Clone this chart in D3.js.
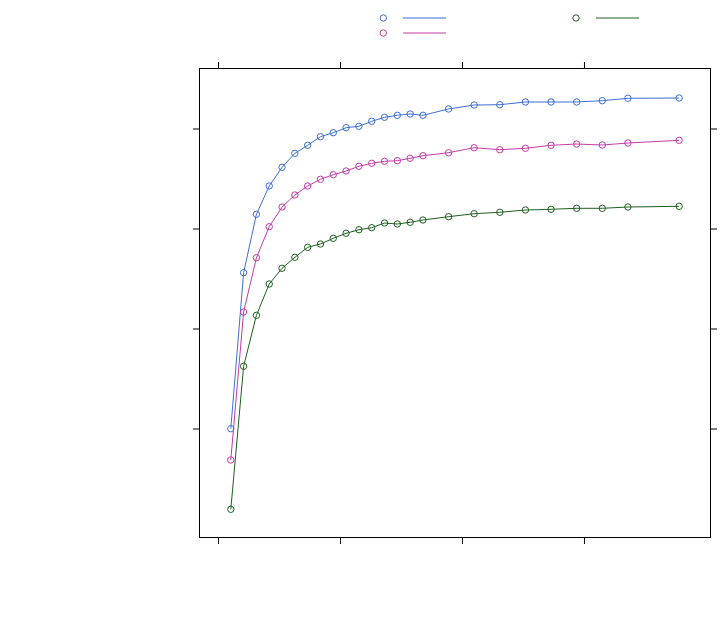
<!DOCTYPE html>
<html>
<head>
<meta charset="utf-8">
<script src="https://cdn.jsdelivr.net/npm/d3@7"></script>
<style>
  body { margin: 0; background: #fff; }
  svg { display: block; }
</style>
</head>
<body>
<div id="chart"></div>
<script>
// x positions of the points (same for all three series)
var xValues = [1.05, 2.1, 3.15, 4.2, 5.25, 6.3, 7.35, 8.4, 9.45, 10.5, 11.55, 12.6,
    13.65, 14.7, 15.75, 16.8, 18.9, 21, 23.1, 25.2, 27.3, 29.4, 31.5, 33.6, 37.8];

var blueValues = [19.96, 51.16, 62.84, 68.5, 72.24, 75.04, 76.64, 78.36, 79.16, 80.16,
    80.44, 81.44, 82.24, 82.64, 82.9, 82.64, 83.9, 84.7, 84.76, 85.3, 85.3, 85.3,
    85.56, 86.04, 86.1];
var pinkValues = [13.7, 43.3, 54.16, 60.36, 64.3, 66.7, 68.5, 69.84, 70.76, 71.5,
    72.44, 73.04, 73.44, 73.56, 74.04, 74.56, 75.16, 76.16, 75.76, 76.04, 76.64,
    76.9, 76.7, 77.1, 77.64];
var greenValues = [3.84, 32.44, 42.64, 48.9, 52.04, 54.24, 56.24, 56.9, 58.04, 59.04,
    59.76, 60.16, 61.1, 60.9, 61.24, 61.7, 62.36, 62.96, 63.24, 63.7, 63.84, 64.04,
    64.04, 64.3, 64.44];

// tick positions (no labels in the picture)
var xTicks = [0, 10, 20, 30];
var yTicks = [20, 40, 60, 80];

var seriesColors = ['#3d6fd4', '#c43aa8', '#1f5f1f'];

var svgWidth = 723;
var svgHeight = 619;

var panel = { left: 200, right: 710, top: 69, bottom: 537 };

var svg = d3.select('#chart')
    .append('svg')
    .attr('width', svgWidth)
    .attr('height', svgHeight);

var xScale = d3.scaleLinear()
    .domain([-1.475, 40.33])
    .range([panel.left, panel.right]);

var yScale = d3.scaleLinear()
    .domain([-1.7, 91.9])
    .range([panel.bottom, panel.top]);

// axes: ticks only, pointing outward
function tickAxis(axis, ticks) {
    return axis.tickValues(ticks).tickSize(7).tickFormat('').tickSizeOuter(0);
}

var axes = [
    { axis: tickAxis(d3.axisLeft(yScale), yTicks), tr: `translate(${panel.left}, 0)` },
    { axis: tickAxis(d3.axisRight(yScale), yTicks), tr: `translate(${panel.right}, 0)` },
    { axis: tickAxis(d3.axisTop(xScale), xTicks), tr: `translate(0, ${panel.top})` },
    { axis: tickAxis(d3.axisBottom(xScale), xTicks), tr: `translate(0, ${panel.bottom})` }
];

axes.forEach(function (a) {
    var g = svg.append('g')
        .attr('transform', a.tr)
        .call(a.axis);
    g.select('.domain').remove();
    g.selectAll('line').attr('stroke', '#000');
});

// panel frame
svg.append('rect')
    .attr('x', panel.left - 0.5)
    .attr('y', panel.top - 0.5)
    .attr('width', panel.right - panel.left + 1)
    .attr('height', panel.bottom - panel.top + 1)
    .attr('fill', 'none')
    .attr('stroke', '#000')
    .attr('stroke-width', 1);

// series
var allSeries = [blueValues, pinkValues, greenValues];

var line = d3.line()
    .x(d => xScale(d.x))
    .y(d => yScale(d.y));

allSeries.forEach(function (vals, i) {
    var pts = vals.map((v, j) => ({ x: xValues[j], y: v }));

    svg.append('path')
        .datum(pts)
        .attr('d', line)
        .attr('fill', 'none')
        .attr('stroke', seriesColors[i])
        .attr('stroke-width', 1);

    svg.append('g').selectAll('circle')
        .data(pts)
        .enter()
        .append('circle')
        .attr('cx', d => xScale(d.x))
        .attr('cy', d => yScale(d.y))
        .attr('r', 3.2)
        .attr('fill', 'none')
        .attr('stroke', seriesColors[i])
        .attr('stroke-width', 1);
});

// legend (symbols and lines, no text)
var legendItems = [
    { cx: 383.3, y: 18, x1: 403, x2: 446, color: seriesColors[0] },
    { cx: 383.3, y: 33, x1: 403, x2: 446, color: seriesColors[1] },
    { cx: 576, y: 18, x1: 596, x2: 639, color: seriesColors[2] }
];

var legend = svg.append('g');

legendItems.forEach(function (item) {
    legend.append('circle')
        .attr('cx', item.cx)
        .attr('cy', item.y)
        .attr('r', 3.2)
        .attr('fill', 'none')
        .attr('stroke', item.color);
    legend.append('line')
        .attr('x1', item.x1)
        .attr('x2', item.x2)
        .attr('y1', item.y)
        .attr('y2', item.y)
        .attr('stroke', item.color)
        .attr('stroke-width', 1);
});
</script>
</body>
</html>
